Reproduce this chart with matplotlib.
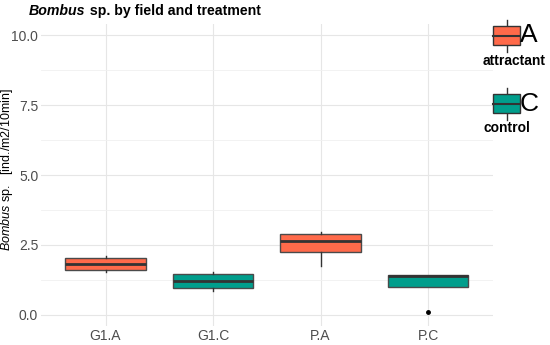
import matplotlib
matplotlib.use("Agg")
import matplotlib.pyplot as plt
from matplotlib.patches import Rectangle
from matplotlib.lines import Line2D

# box statistics (ind./m2/10min)
groups = ["G1.A", "G1.C", "P.A", "P.C"]
treatment = ["A", "C", "A", "C"]
q1 = [1.61, 0.95, 2.25, 1.01]
med = [1.82, 1.21, 2.64, 1.39]
q3 = [2.02, 1.46, 2.89, 1.43]
whislo = [1.55, 0.87, 1.76, 1.01]
whishi = [2.10, 1.55, 2.98, 1.43]
fliers = [[], [], [], [0.10]]

legend_keys = ["A", "C"]
legend_names = ["attractant", "control"]
colors = {"A": "#FF6A4A", "C": "#009E8C"}

plt.rcParams["font.family"] = ["Liberation Sans", "DejaVu Sans"]
plt.rcParams["mathtext.fontset"] = "custom"
plt.rcParams["mathtext.rm"] = "Liberation Sans"
plt.rcParams["mathtext.it"] = "Liberation Sans:italic"
plt.rcParams["mathtext.bf"] = "Liberation Sans:bold"

W, H = 550, 345
fig = plt.figure(figsize=(5.5, 3.45), dpi=100)
ax = fig.add_axes([41 / W, 0.0545, (492.5 - 41) / W, 0.8765])

stats = []
for i, g in enumerate(groups):
    stats.append(dict(label=g, q1=q1[i], med=med[i], q3=q3[i],
                      whislo=whislo[i], whishi=whishi[i], fliers=fliers[i]))

bp = ax.bxp(stats, positions=range(1, len(groups) + 1), widths=0.75,
            patch_artist=True, showcaps=False,
            boxprops=dict(edgecolor="#4a4a4a", linewidth=1.0),
            whiskerprops=dict(color="#333333", linewidth=1.0),
            medianprops=dict(color="#333333", linewidth=2.0),
            flierprops=dict(marker="o", markersize=2.5, markerfacecolor="black",
                            markeredgecolor="black"))
for patch, t in zip(bp["boxes"], treatment):
    patch.set_facecolor(colors[t])

ax.set_xlim(0.4, 4.6)
ax.set_ylim(-0.4, 10.4)
ax.set_yticks([0, 2.5, 5, 7.5, 10])
ax.set_yticklabels(["0.0", "2.5", "5.0", "7.5", "10.0"])
ax.set_yticks([1.25, 3.75, 6.25, 8.75], minor=True)
ax.set_xticks(range(1, len(groups) + 1))
ax.set_xticklabels(groups)

ax.grid(True, which="major", color="#E6E6E6", linewidth=0.8)
ax.grid(True, which="minor", axis="y", color="#F0F0F0", linewidth=0.6)
ax.set_axisbelow(True)
for s in ax.spines.values():
    s.set_visible(False)
ax.tick_params(axis="both", which="both", length=0, labelsize=10,
               labelcolor="#4D4D4D")
ax.tick_params(axis="y", pad=2)
ax.tick_params(axis="x", pad=2)

# y label placed by hand so it sits at the very left edge
fig.text(7.5 / W, 1 - 169 / H, r"$\mathit{Bombus}$ sp.   [ind./m2/10min]",
         fontsize=9, rotation=90, va="center", ha="center")

# title: bold italic genus followed by bold text
t1 = fig.text(29 / W, 1 - 11 / H, "Bombus", fontsize=10.2, fontweight="bold",
              fontstyle="italic", va="center", ha="left")
fig.canvas.draw()
bb = t1.get_window_extent()
fig.text(bb.x1 / W, 1 - 11 / H, " sp. by field and treatment", fontsize=10.2,
         fontweight="bold", va="center", ha="left")

# legend drawn by hand to the right of the panel
key_y = [35.5, 103.5]
lab_y = [61, 128]
for k, name, yc, yl in zip(legend_keys, legend_names, key_y, lab_y):
    x0, x1 = 493, 520
    h = 19
    fig.add_artist(Line2D([(x0 + x1) / 2 / W] * 2,
                          [1 - (yc - 16) / H, 1 - (yc + 16) / H],
                          color="#333333", linewidth=1.0, zorder=1))
    fig.add_artist(Rectangle((x0 / W, 1 - (yc + h / 2) / H), (x1 - x0) / W, h / H,
                             facecolor=colors[k], edgecolor="#333333", linewidth=1.0,
                             transform=fig.transFigure, zorder=2))
    fig.add_artist(Line2D([x0 / W, x1 / W], [1 - yc / H] * 2,
                          color="#333333", linewidth=1.5, zorder=3))
    fig.text(520 / W, 1 - yc / H, k, fontsize=19, va="center", ha="left")
    fig.text(483 / W, 1 - yl / H, name, fontsize=10, fontweight="bold",
             va="center", ha="left")

fig.savefig("out.png", dpi=100)
